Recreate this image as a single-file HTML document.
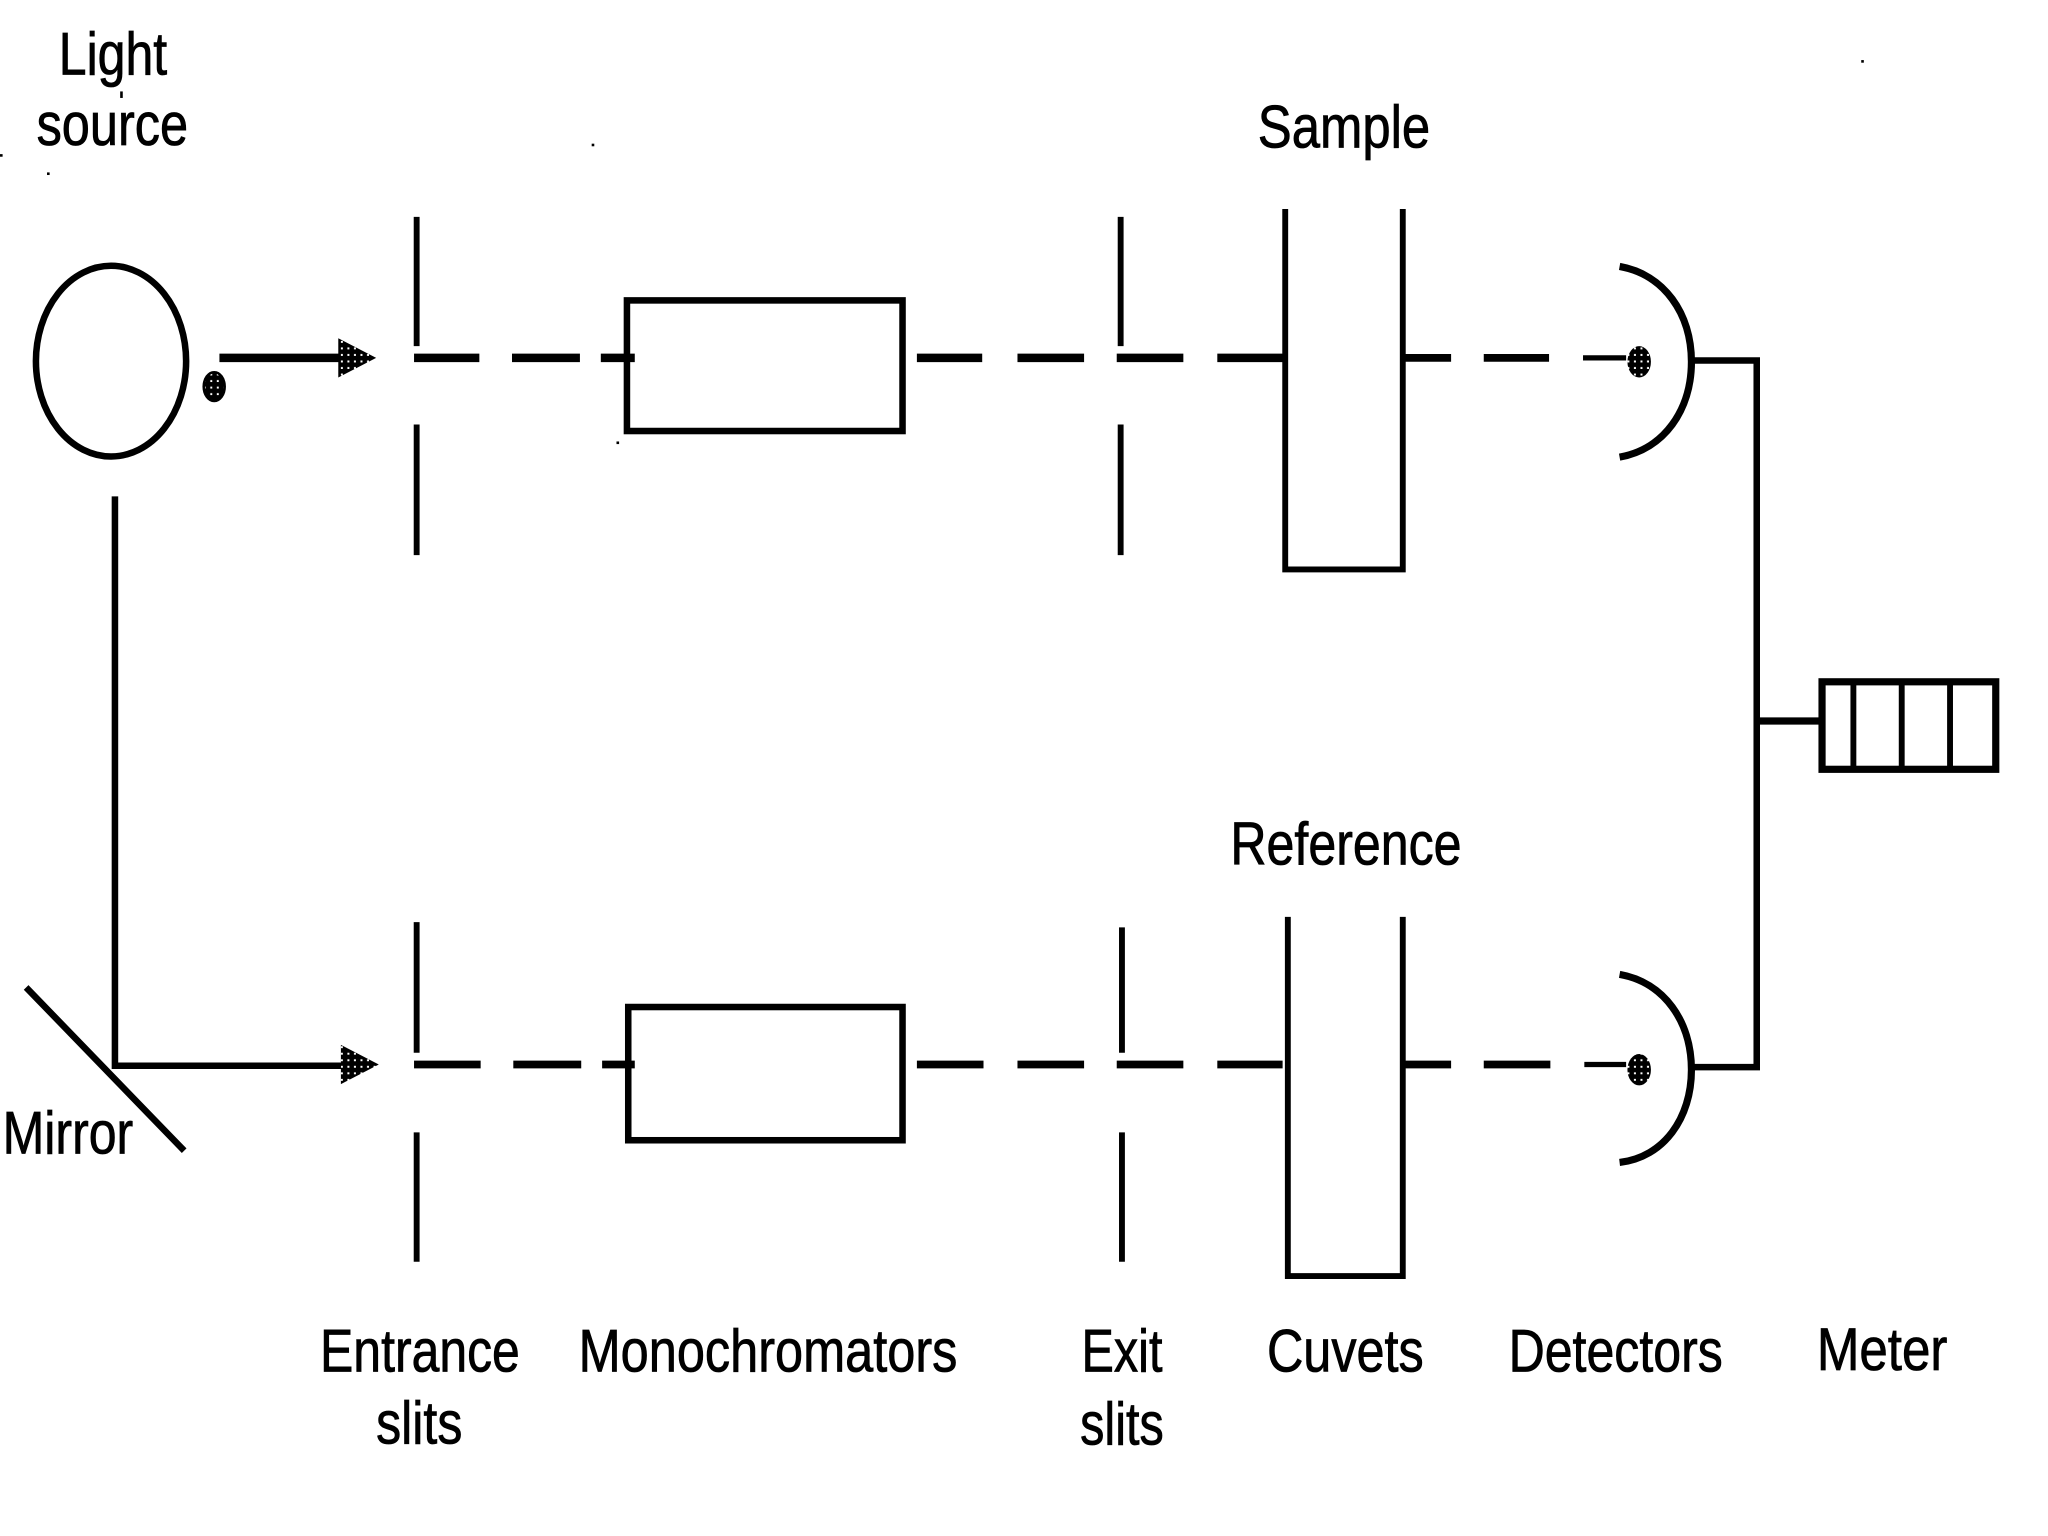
<!DOCTYPE html>
<html><head><meta charset="utf-8"><style>
html,body{margin:0;padding:0;background:#fff}
svg{display:block}
text{font-family:"Liberation Sans",sans-serif;font-size:46px;fill:#000;stroke:#000;stroke-width:.6}
</style></head><body>
<svg width="2048" height="1536" viewBox="0 0 1568 1176" xmlns="http://www.w3.org/2000/svg">
<defs><pattern id="sp" width="5" height="5" patternUnits="userSpaceOnUse"><rect width="5" height="5" fill="#000"/><rect x="1" y="1" width="1.500" height="1.500" fill="#fff"/></pattern></defs>
<rect width="1568" height="1176" fill="#fff"/>
<g fill="none" stroke="#000" stroke-width="4.500">
<ellipse cx="85" cy="276.500" rx="57.500" ry="73" stroke-width="5"/>
<path d="M168 274H262" stroke-width="6.500"/>
<path d="M319 166V265M319 325V425" />
<path d="M317 274H367M392 274H444M460 274H486" stroke-width="6.500"/>
<rect x="480" y="230" width="211" height="100" stroke-width="5"/>
<path d="M702 274H752M779 274H830M855 274H906M932 274H982" stroke-width="6.500"/>
<path d="M858 166V265M858 325V425"/>
<path d="M984 160V436H1074V160"/>
<path d="M1075 274H1111M1136 274H1186" stroke-width="6"/>
<path d="M1212 274H1245" stroke-width="4"/>
<path d="M1240 204C1274 210 1295 240 1295 277C1295 314 1274 344 1240 350" stroke-width="5.500"/>
<path d="M1296 276H1345V817H1296" stroke-width="5"/>
<path d="M1345 552H1396" stroke-width="5.500"/>
<rect x="1395" y="522" width="133" height="67" stroke-width="5.500"/>
<path d="M1419 522V589M1456 522V589M1493 522V589"/>
<path d="M88 380V816H262" stroke-width="5"/>
<path d="M20 756L141 881" stroke-width="5"/>
<path d="M317 815H368M393 815H445M461 815H486" stroke-width="6"/>
<path d="M319 706V806M319 867V966"/>
<rect x="481" y="771" width="210" height="102" stroke-width="5"/>
<path d="M702 815H753M779 815H830M855 815H906M932 815H982" stroke-width="6"/>
<path d="M859 710V806M859 867V966"/>
<path d="M986 702V977H1074V702"/>
<path d="M1075 815H1111M1136 815H1187" stroke-width="6"/>
<path d="M1213 815H1245" stroke-width="4"/>
<path d="M1240 746C1274 752 1295 782 1295 819C1295 856 1274 886 1240 890" stroke-width="5.500"/>
</g>
<path d="M259 259L288 274L259 289Z M261 800L290 815L261 830Z" fill="url(#sp)"/>
<ellipse cx="1255" cy="277" rx="9" ry="12" fill="url(#sp)"/>
<ellipse cx="1255" cy="819" rx="9" ry="12" fill="url(#sp)"/>
<ellipse cx="164" cy="296" rx="8" ry="11" fill="url(#sp)" stroke="#000" stroke-width="2"/>
<g fill="#000">
<rect x="453" y="110" width="2" height="2"/><rect x="36" y="132" width="2" height="2"/><rect x="0" y="118" width="2" height="2"/>
<rect x="1425" y="46" width="2" height="2"/><rect x="472" y="338" width="2" height="2"/><rect x="92" y="70" width="2" height="5"/>
</g>
<text x="45" y="57" textLength="83" lengthAdjust="spacingAndGlyphs">Light</text>
<text x="28" y="111" textLength="116" lengthAdjust="spacingAndGlyphs">source</text>
<text x="963" y="113" textLength="132" lengthAdjust="spacingAndGlyphs">Sample</text>
<text x="942" y="662" textLength="177" lengthAdjust="spacingAndGlyphs">Reference</text>
<text x="2" y="883" textLength="100" lengthAdjust="spacingAndGlyphs">Mirror</text>
<text x="245" y="1050" textLength="153" lengthAdjust="spacingAndGlyphs">Entrance</text>
<text x="288" y="1105" textLength="66" lengthAdjust="spacingAndGlyphs">slits</text>
<text x="443" y="1050" textLength="290" lengthAdjust="spacingAndGlyphs">Monochromators</text>
<text x="828" y="1050" textLength="62" lengthAdjust="spacingAndGlyphs">Exit</text>
<text x="827" y="1106" textLength="64" lengthAdjust="spacingAndGlyphs">slits</text>
<text x="970" y="1050" textLength="120" lengthAdjust="spacingAndGlyphs">Cuvets</text>
<text x="1155" y="1050" textLength="164" lengthAdjust="spacingAndGlyphs">Detectors</text>
<text x="1391" y="1049" textLength="100" lengthAdjust="spacingAndGlyphs">Meter</text>
</svg>
</body></html>
